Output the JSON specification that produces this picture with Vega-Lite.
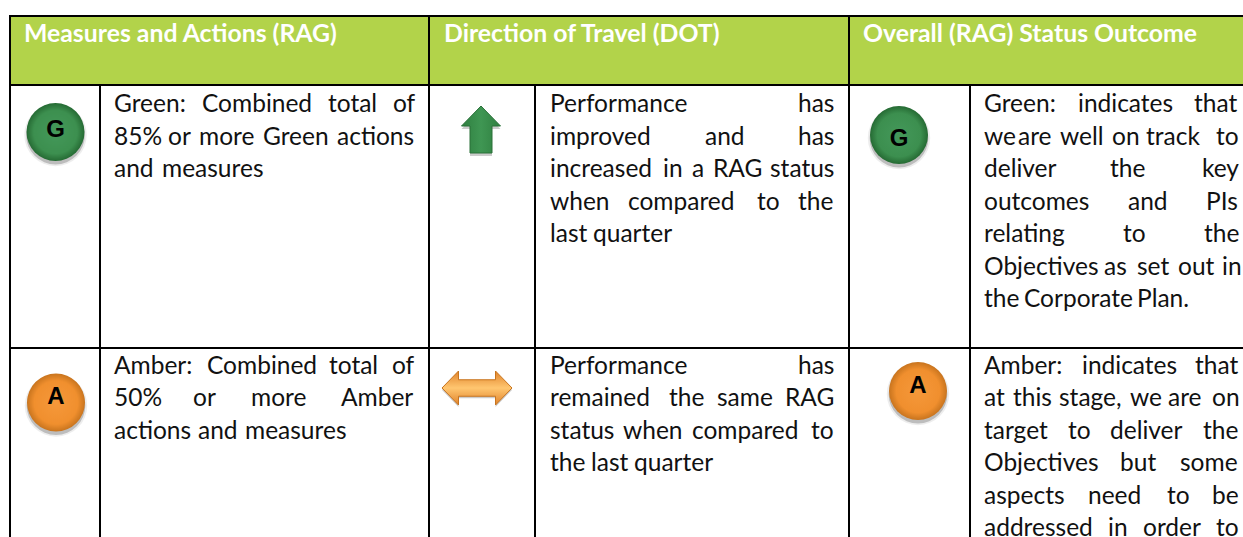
{"$schema":"https://vega.github.io/schema/vega-lite/v6.json","width":1243,"height":537,"autosize":{"type":"fit","contains":"padding"},"padding":0,"background":"white","config":{"view":{"stroke":null},"axis":{"disable":true}},
"datasets":{
"header":[{"x":10,"x2":1243,"y":16,"y2":85}],
"hlines":[{"x":9,"x2":1243,"y":16},{"x":9,"x2":1243,"y":85},{"x":9,"x2":1243,"y":348}],
"vlines":[{"x":10,"y":15,"y2":537},{"x":100,"y":85,"y2":537},{"x":429,"y":15,"y2":537},{"x":535,"y":85,"y2":537},{"x":849,"y":15,"y2":537},{"x":970,"y":85,"y2":537}],
"heads":[{"t":"Measures and Actions (RAG)","x":24,"y":42},{"t":"Direction of Travel (DOT)","x":444,"y":42},{"t":"Overall (RAG) Status Outcome","x":863,"y":42}],
"badges":[{"k":"G","x":55.5,"y":132,"ly":130},{"k":"G","x":899,"y":135,"ly":139},{"k":"A","x":56,"y":402.5,"ly":397},{"k":"A","x":918,"y":391,"ly":386}],
"upArrow":[{"x":481,"y":130}],
"sideArrow":[{"x":477,"y":388}],
"words":[
{"t":"Green:","x":114,"y":112},{"t":"Combined","x":202,"y":112},{"t":"total","x":328,"y":112},{"t":"of","x":393,"y":112},
{"t":"85%","x":114,"y":144.5},{"t":"or","x":168,"y":144.5},{"t":"more","x":199,"y":144.5},{"t":"Green","x":263,"y":144.5},{"t":"actions","x":337,"y":144.5},
{"t":"and","x":114,"y":177},{"t":"measures","x":162,"y":177},
{"t":"Performance","x":550,"y":112},{"t":"has","x":798,"y":112},
{"t":"improved","x":550,"y":144.5},{"t":"and","x":705,"y":144.5},{"t":"has","x":798,"y":144.5},
{"t":"increased","x":550,"y":177},{"t":"in","x":663,"y":177},{"t":"a","x":692,"y":177},{"t":"RAG","x":713,"y":177},{"t":"status","x":770,"y":177},
{"t":"when","x":550,"y":209.5},{"t":"compared","x":628,"y":209.5},{"t":"to","x":757,"y":209.5},{"t":"the","x":798,"y":209.5},
{"t":"last","x":550,"y":242},{"t":"quarter","x":593,"y":242},
{"t":"Green:","x":984,"y":112},{"t":"indicates","x":1078,"y":112},{"t":"that","x":1194,"y":112},
{"t":"we","x":984,"y":144.5},{"t":"are","x":1018,"y":144.5},{"t":"well","x":1060,"y":144.5},{"t":"on","x":1112,"y":144.5},{"t":"track","x":1146,"y":144.5},{"t":"to","x":1216,"y":144.5},
{"t":"deliver","x":984,"y":177},{"t":"the","x":1110,"y":177},{"t":"key","x":1202,"y":177},
{"t":"outcomes","x":984,"y":209.5},{"t":"and","x":1128,"y":209.5},{"t":"PIs","x":1206,"y":209.5},
{"t":"relating","x":984,"y":242},{"t":"to","x":1123,"y":242},{"t":"the","x":1204,"y":242},
{"t":"Objectives","x":984,"y":274.5},{"t":"as","x":1104,"y":274.5},{"t":"set","x":1137,"y":274.5},{"t":"out","x":1178,"y":274.5},{"t":"in","x":1222,"y":274.5},
{"t":"the","x":984,"y":307},{"t":"Corporate","x":1024,"y":307},{"t":"Plan.","x":1137,"y":307},
{"t":"Amber:","x":114,"y":373.5},{"t":"Combined","x":207,"y":373.5},{"t":"total","x":329,"y":373.5},{"t":"of","x":392,"y":373.5},
{"t":"50%","x":114,"y":406},{"t":"or","x":193,"y":406},{"t":"more","x":251,"y":406},{"t":"Amber","x":341,"y":406},
{"t":"actions","x":114,"y":438.5},{"t":"and","x":198,"y":438.5},{"t":"measures","x":245,"y":438.5},
{"t":"Performance","x":550,"y":373.5},{"t":"has","x":798,"y":373.5},
{"t":"remained","x":550,"y":406},{"t":"the","x":669,"y":406},{"t":"same","x":717,"y":406},{"t":"RAG","x":785,"y":406},
{"t":"status","x":550,"y":438.5},{"t":"when","x":623,"y":438.5},{"t":"compared","x":692,"y":438.5},{"t":"to","x":811,"y":438.5},
{"t":"the","x":550,"y":471},{"t":"last","x":591,"y":471},{"t":"quarter","x":634,"y":471},
{"t":"Amber:","x":984,"y":373.5},{"t":"indicates","x":1082,"y":373.5},{"t":"that","x":1195,"y":373.5},
{"t":"at","x":984,"y":406},{"t":"this","x":1013,"y":406},{"t":"stage,","x":1059,"y":406},{"t":"we","x":1130,"y":406},{"t":"are","x":1168,"y":406},{"t":"on","x":1212,"y":406},
{"t":"target","x":984,"y":438.5},{"t":"to","x":1068,"y":438.5},{"t":"deliver","x":1110,"y":438.5},{"t":"the","x":1203,"y":438.5},
{"t":"Objectives","x":984,"y":471},{"t":"but","x":1120,"y":471},{"t":"some","x":1180,"y":471},
{"t":"aspects","x":984,"y":503.5},{"t":"need","x":1088,"y":503.5},{"t":"to","x":1167,"y":503.5},{"t":"be","x":1212,"y":503.5},
{"t":"addressed","x":984,"y":536},{"t":"in","x":1108,"y":536},{"t":"order","x":1143,"y":536},{"t":"to","x":1216,"y":536}
]},
"encoding":{
"x":{"field":"x","type":"quantitative","scale":{"domain":[0,1243],"range":[0,1243],"nice":false,"zero":false},"axis":null},
"y":{"field":"y","type":"quantitative","scale":{"domain":[0,537],"range":[0,537],"nice":false,"zero":false},"axis":null}
},
"layer":[
{"data":{"name":"header"},"mark":{"type":"rect","fill":"#B2D34A"},"encoding":{"x2":{"field":"x2"},"y2":{"field":"y2"}}},
{"data":{"name":"hlines"},"mark":{"type":"rule","stroke":"#000","strokeWidth":2},"encoding":{"x2":{"field":"x2"}}},
{"data":{"name":"vlines"},"mark":{"type":"rule","stroke":"#000","strokeWidth":2},"encoding":{"y2":{"field":"y2"}}},
{"data":{"name":"heads"},"mark":{"type":"text","align":"left","baseline":"alphabetic","font":"Lato","fontWeight":"bold","fontSize":24.8,"fill":"white"},"encoding":{"text":{"field":"t"}}},
{"data":{"name":"words"},"mark":{"type":"text","align":"left","baseline":"alphabetic","font":"Lato","fontSize":24.5,"fill":"#111"},"encoding":{"text":{"field":"t"}}},
{"data":{"name":"badges"},"mark":{"type":"point","shape":"circle","filled":true,"fill":"#000","opacity":0.07,"size":3900,"yOffset":3},"encoding":{}},
{"data":{"name":"badges"},"mark":{"type":"point","shape":"circle","filled":true,"fill":"#000","opacity":0.2,"size":3450,"yOffset":3},"encoding":{}},
{"data":{"name":"badges"},"transform":[{"filter":"datum.k==='G'"}],"mark":{"type":"point","shape":"circle","filled":true,"opacity":1,"size":3364,"fill":{"gradient":"radial","x1":0.5,"y1":0.5,"x2":0.5,"y2":0.5,"r1":0,"r2":0.5,"stops":[{"offset":0,"color":"#44985a"},{"offset":0.75,"color":"#3c8f4f"},{"offset":1,"color":"#256a33"}]}},"encoding":{}},
{"data":{"name":"badges"},"transform":[{"filter":"datum.k==='A'"}],"mark":{"type":"point","shape":"circle","filled":true,"opacity":1,"size":3364,"fill":{"gradient":"radial","x1":0.5,"y1":0.5,"x2":0.5,"y2":0.5,"r1":0,"r2":0.5,"stops":[{"offset":0,"color":"#f5983a"},{"offset":0.75,"color":"#f08f2e"},{"offset":1,"color":"#c8741e"}]}},"encoding":{}},
{"data":{"name":"badges"},"mark":{"type":"text","font":"Liberation Sans","fontWeight":"bold","fontSize":24,"fill":"#000","baseline":"middle"},"encoding":{"y":{"field":"ly","type":"quantitative"},"text":{"field":"k"}}},
{"data":{"name":"upArrow"},"mark":{"type":"point","shape":"M0,-.96L.78,-.16L.44,-.16L.44,.92L-.44,.92L-.44,-.16L-.78,-.16Z","filled":true,"fill":"#000","opacity":0.2,"size":2500,"yOffset":3},"encoding":{}},
{"data":{"name":"sideArrow"},"mark":{"type":"point","shape":"M-1.4,0L-.74,-.68L-.74,-.33L.74,-.33L.74,-.68L1.4,0L.74,.68L.74,.33L-.74,.33L-.74,.68Z","filled":true,"fill":"#000","opacity":0.2,"size":2500,"yOffset":2},"encoding":{}},
{"data":{"name":"upArrow"},"mark":{"type":"point","shape":"M0,-.96L.78,-.16L.44,-.16L.44,.92L-.44,.92L-.44,-.16L-.78,-.16Z","filled":true,"opacity":1,"size":2500,"stroke":"#2a7139","strokeWidth":1,"fill":{"gradient":"linear","x1":0,"y1":0.5,"x2":1,"y2":0.5,"stops":[{"offset":0,"color":"#2f7f40"},{"offset":0.5,"color":"#3f9653"},{"offset":1,"color":"#2f7f40"}]}},"encoding":{}},
{"data":{"name":"sideArrow"},"mark":{"type":"point","shape":"M-1.4,0L-.74,-.68L-.74,-.33L.74,-.33L.74,-.68L1.4,0L.74,.68L.74,.33L-.74,.33L-.74,.68Z","filled":true,"opacity":1,"size":2500,"stroke":"#c8741e","strokeWidth":1,"fill":{"gradient":"linear","x1":0.5,"y1":0,"x2":0.5,"y2":1,"stops":[{"offset":0,"color":"#e0822a"},{"offset":0.5,"color":"#ffc670"},{"offset":1,"color":"#e0822a"}]}},"encoding":{}}
]}
